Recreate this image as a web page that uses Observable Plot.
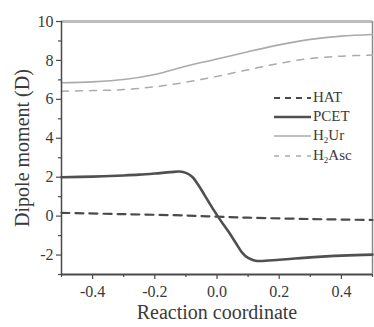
<!DOCTYPE html>
<html>
<head>
<meta charset="utf-8">
<script src="https://cdn.jsdelivr.net/npm/d3@7"></script>
<script src="https://cdn.jsdelivr.net/npm/@observablehq/plot@0.6"></script>
<style>
  html, body { margin: 0; padding: 0; background: #fff; font-family: 'Liberation Serif'; }
  #wrap { position: relative; width: 374px; height: 327px; }
  #wrap svg, #wrap svg text { font-family: 'Liberation Serif' !important; }
  #legend { position: absolute; left: 274px; top: 88px; font-family: 'Liberation Serif'; font-size: 15px; color: #3a3a3a; }
  #legend .row { display: flex; align-items: center; height: 19.3px; }
  #legend svg { width: 37px; height: 8px; margin-right: 2px; }
  #legend sub { font-size: 9px; vertical-align: -3px; }
</style>
</head>
<body>
<div id="wrap"></div>
<script>
// ---- data ----
const xUr   = [-0.5, -0.4, -0.3, -0.2, -0.1, 0.0, 0.1, 0.2, 0.3, 0.4, 0.5];
const yUr   = [6.85, 6.9, 7.02, 7.28, 7.7, 8.07, 8.45, 8.8, 9.08, 9.25, 9.33];
const xAsc  = [-0.5, -0.4, -0.3, -0.2, -0.1, 0.0, 0.1, 0.2, 0.3, 0.4, 0.5];
const yAsc  = [6.42, 6.45, 6.5, 6.65, 6.88, 7.18, 7.52, 7.85, 8.1, 8.22, 8.28];
const xPcet = [-0.5, -0.4, -0.3, -0.25, -0.2, -0.15, -0.12, -0.1, -0.08, -0.06, -0.04, -0.02, 0.0, 0.02, 0.04, 0.06, 0.08, 0.1, 0.12, 0.14, 0.2, 0.25, 0.3, 0.35, 0.4, 0.5];
const yPcet = [2.0, 2.03, 2.09, 2.13, 2.19, 2.26, 2.29, 2.22, 2.02, 1.6, 1.08, 0.55, 0.05, -0.42, -0.87, -1.37, -1.86, -2.15, -2.28, -2.31, -2.24, -2.18, -2.12, -2.07, -2.03, -1.98];
const xHat  = [-0.5, -0.3, -0.1, 0.0, 0.1, 0.3, 0.5];
const yHat  = [0.17, 0.1, 0.03, -0.03, -0.08, -0.15, -0.2];

const xDomain = [-0.5, 0.5];
const yDomain = [-3, 10];
const xMajor = [-0.4, -0.2, 0.0, 0.2, 0.4];
const xMinor = [-0.5, -0.3, -0.1, 0.1, 0.3, 0.5];
const yMajor = [-2, 0, 2, 4, 6, 8, 10];
const yMinor = [-3, -1, 1, 3, 5, 7, 9];

const seriesNames = ["HAT", "PCET", "H2Ur", "H2Asc"];
const legendHTML = ["HAT", "PCET", "H<sub>2</sub>Ur", "H<sub>2</sub>Asc"];

const zip = (xs, ys) => xs.map((x, i) => ({x, y: ys[i]}));
const dUr = zip(xUr, yUr), dAsc = zip(xAsc, yAsc), dPcet = zip(xPcet, yPcet), dHat = zip(xHat, yHat);

const styles = {
  HAT:   {stroke: "#4a4a4a", strokeWidth: 2.2, strokeDasharray: "8,6"},
  PCET:  {stroke: "#505050", strokeWidth: 2.6},
  H2Ur:  {stroke: "#ababab", strokeWidth: 1.6},
  H2Asc: {stroke: "#ababab", strokeWidth: 1.5, strokeDasharray: "7,7"}
};
const axisColor = "#4a4a4a";
const font = "Liberation Serif";

const chart = Plot.plot({
  width: 374,
  height: 327,
  marginLeft: 61,
  marginRight: 2,
  marginTop: 21,
  marginBottom: 53,
  style: {fontFamily: font, color: "#3a3a3a", background: "#fff"},
  x: {domain: xDomain},
  y: {domain: yDomain},
  marks: [
    Plot.ruleY([yDomain[1]], {stroke: "#bdbdbd", strokeWidth: 3}),
    Plot.ruleX([xDomain[1]], {stroke: "#8a8a8a", strokeWidth: 1.5}),
    Plot.line(dUr,  {x: "x", y: "y", curve: "catmull-rom", ...styles.H2Ur}),
    Plot.line(dAsc, {x: "x", y: "y", curve: "catmull-rom", ...styles.H2Asc}),
    Plot.line(dHat, {x: "x", y: "y", curve: "catmull-rom", ...styles.HAT}),
    Plot.line(dPcet,{x: "x", y: "y", curve: "catmull-rom", ...styles.PCET}),
    Plot.ruleX([xDomain[0]], {stroke: axisColor, strokeWidth: 1.5}),
    Plot.ruleY([yDomain[0]], {stroke: axisColor, strokeWidth: 1.8}),
    Plot.axisX({ticks: xMajor, tickSize: 5, tickPadding: 6, fontSize: 16, fontFamily: font, tickFormat: d => d.toFixed(1), label: null, stroke: axisColor, strokeWidth: 1.2}),
    Plot.axisX({ticks: xMinor, tickSize: 3, fill: "none", label: null, stroke: axisColor, strokeWidth: 1.2}),
    Plot.axisY({ticks: yMajor, tickSize: 5, tickPadding: 3, fontSize: 16, fontFamily: font, tickFormat: d => String(d), label: null, stroke: axisColor, strokeWidth: 1.2}),
    Plot.axisY({ticks: yMinor, tickSize: 3, fill: "none", label: null, stroke: axisColor, strokeWidth: 1.2}),
    Plot.text(["Reaction coordinate"], {frameAnchor: "bottom", textAnchor: "middle", dy: 44, fontSize: 20, fontFamily: font, fill: "#3a3a3a"}),
    Plot.text(["Dipole moment (D)"], {frameAnchor: "left", textAnchor: "middle", dx: -39, rotate: -90, fontSize: 20, fontFamily: font, fill: "#3a3a3a"})
  ]
});

const wrap = document.getElementById("wrap");
wrap.appendChild(chart);

// legend
const legend = document.createElement("div");
legend.id = "legend";
seriesNames.forEach((name, i) => {
  const s = styles[name];
  const row = document.createElement("div");
  row.className = "row";
  row.innerHTML = `<svg viewBox="0 0 37 8"><line x1="0" y1="4" x2="37" y2="4" stroke="${s.stroke}" stroke-width="${s.strokeWidth}" ${s.strokeDasharray ? `stroke-dasharray="${name === "HAT" ? "6,5" : "5,6"}"` : ""}/></svg><span>${legendHTML[i]}</span>`;
  legend.appendChild(row);
});
wrap.appendChild(legend);
</script>
</body>
</html>
